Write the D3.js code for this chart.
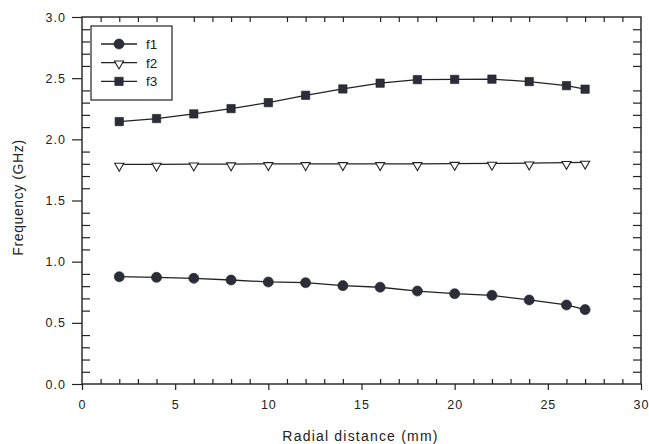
<!DOCTYPE html>
<html>
<head>
<meta charset="utf-8">
<script src="https://cdn.jsdelivr.net/npm/d3@7"></script>
<style>
  body { margin: 0; background: #fff; }
  text { font-family: "Liberation Sans", Arial, sans-serif; fill: #222; }
</style>
</head>
<body>
<div id="chart"></div>
<script>
const radial = [2, 4, 6, 8, 10, 12, 14, 16, 18, 20, 22, 24, 26, 27];
const f1 = [0.877, 0.872, 0.864, 0.850, 0.834, 0.828, 0.804, 0.791, 0.760, 0.738, 0.725, 0.687, 0.646, 0.608];
const f2 = [1.795, 1.795, 1.797, 1.798, 1.800, 1.800, 1.800, 1.800, 1.800, 1.802, 1.803, 1.805, 1.810, 1.812];
const f3 = [2.145, 2.170, 2.208, 2.251, 2.300, 2.360, 2.412, 2.459, 2.488, 2.490, 2.492, 2.472, 2.439, 2.410];
const seriesNames = ['f1', 'f2', 'f3'];
const xMajor = [0, 5, 10, 15, 20, 25, 30];
const yMajor = [0.0, 0.5, 1.0, 1.5, 2.0, 2.5, 3.0];

const W = 649, H = 444;
const margin = {top: 17, right: 8, bottom: 60, left: 82};
const width = W - margin.left - margin.right;
const height = H - margin.top - margin.bottom;

const svg = d3.select('#chart').append('svg')
    .attr('width', W)
    .attr('height', H);

const g = svg.append('g')
    .attr('transform', `translate(${margin.left},${margin.top})`);

const x = d3.scaleLinear().domain([0, 30]).range([0, width]);
const y = d3.scaleLinear().domain([0, 3]).range([height, 0]);

// minor tick values (skip the majors)
const xMinor = d3.range(1, 30).filter(v => v % 5 !== 0);
const yMinor = d3.range(1, 30).filter(v => v % 5 !== 0).map(v => v / 10);

// major axes with labels, ticks outward
g.append('g')
    .attr('transform', `translate(0,${height})`)
    .call(d3.axisBottom(x).tickValues(xMajor).tickSize(6).tickPadding(10).tickFormat(d3.format('d')))
    .call(a => a.select('.domain').remove());

g.append('g')
    .call(d3.axisLeft(y).tickValues(yMajor).tickSize(10).tickPadding(6).tickFormat(d3.format('.1f')))
    .call(a => a.select('.domain').remove());

// minor ticks, inward
g.append('g')
    .attr('transform', `translate(0,${height})`)
    .call(d3.axisBottom(x).tickValues(xMinor).tickSize(-5).tickFormat(''))
    .call(a => a.select('.domain').remove());
g.append('g')
    .call(d3.axisTop(x).tickValues(xMinor).tickSize(-5).tickFormat(''))
    .call(a => a.select('.domain').remove());
g.append('g')
    .call(d3.axisLeft(y).tickValues(yMinor).tickSize(-8).tickFormat(''))
    .call(a => a.select('.domain').remove());
g.append('g')
    .attr('transform', `translate(${width},0)`)
    .call(d3.axisRight(y).tickValues(yMinor).tickSize(-8).tickFormat(''))
    .call(a => a.select('.domain').remove());

g.selectAll('.tick line').attr('stroke', '#222').attr('stroke-width', 1.2);
g.selectAll('.tick text')
    .attr('font-size', 12.5)
    .attr('letter-spacing', '1px')
    .attr('fill', '#222');

// frame
g.append('rect')
    .attr('width', width)
    .attr('height', height)
    .attr('fill', 'none')
    .attr('stroke', '#222')
    .attr('stroke-width', 1.4);

// axis titles
svg.append('text')
    .attr('x', margin.left + width / 2 - 1)
    .attr('y', 441)
    .attr('text-anchor', 'middle')
    .attr('font-size', 14)
    .attr('letter-spacing', '1.2px')
    .text('Radial distance (mm)');

svg.append('text')
    .attr('transform', `translate(23,${margin.top + height / 2 - 3}) rotate(-90)`)
    .attr('text-anchor', 'middle')
    .attr('font-size', 14)
    .attr('letter-spacing', '0.6px')
    .text('Frequency (GHz)');

const data = [f1, f2, f3].map((vals, i) => ({
  name: seriesNames[i],
  values: vals.map((v, j) => ({x: radial[j], y: v}))
}));

const markFill = '#2b2d38';
const symbols = {
  f1: d3.symbol().type(d3.symbolCircle).size(80),
  f2: d3.symbol().type(d3.symbolTriangle).size(36),
  f3: d3.symbol().type(d3.symbolSquare).size(70)
};

const line = d3.line().x(d => x(d.x)).y(d => y(d.y));

const series = g.selectAll('.series')
    .data(data)
    .join('g')
      .attr('class', 'series');

series.append('path')
    .attr('d', d => line(d.values))
    .attr('fill', 'none')
    .attr('stroke', '#222')
    .attr('stroke-width', 1.3);

function drawMark(sel, name) {
  sel.attr('d', symbols[name]())
     .attr('fill', name === 'f2' ? '#fff' : markFill)
     .attr('stroke', '#222')
     .attr('stroke-width', name === 'f2' ? 1.1 : 0.6);
}

series.each(function(s) {
  d3.select(this).selectAll('path.mark')
    .data(s.values)
    .join('path')
      .attr('class', 'mark')
      .attr('transform', d => s.name === 'f2'
          ? `translate(${x(d.x)},${y(d.y) + 1.5}) rotate(180)`
          : `translate(${x(d.x)},${y(d.y)})`)
      .call(drawMark, s.name);
});

// legend
const legend = g.append('g').attr('transform', 'translate(9,9)');
legend.append('rect')
    .attr('width', 81)
    .attr('height', 74)
    .attr('fill', '#fff')
    .attr('stroke', '#222')
    .attr('stroke-width', 1.2);

const items = legend.selectAll('.item')
    .data(seriesNames)
    .join('g')
      .attr('class', 'item')
      .attr('transform', (d, i) => `translate(0,${18 + i * 18.7})`);

items.append('line')
    .attr('x1', 10).attr('x2', 46)
    .attr('stroke', '#222').attr('stroke-width', 1.3);

items.append('path')
    .attr('transform', d => d === 'f2' ? 'translate(28,1) rotate(180)' : 'translate(28,0)')
    .each(function(d) { d3.select(this).call(drawMark, d); });

items.append('text')
    .attr('x', 55)
    .attr('y', 5)
    .attr('font-size', 13.5)
    .text(d => d);
</script>
</body>
</html>
